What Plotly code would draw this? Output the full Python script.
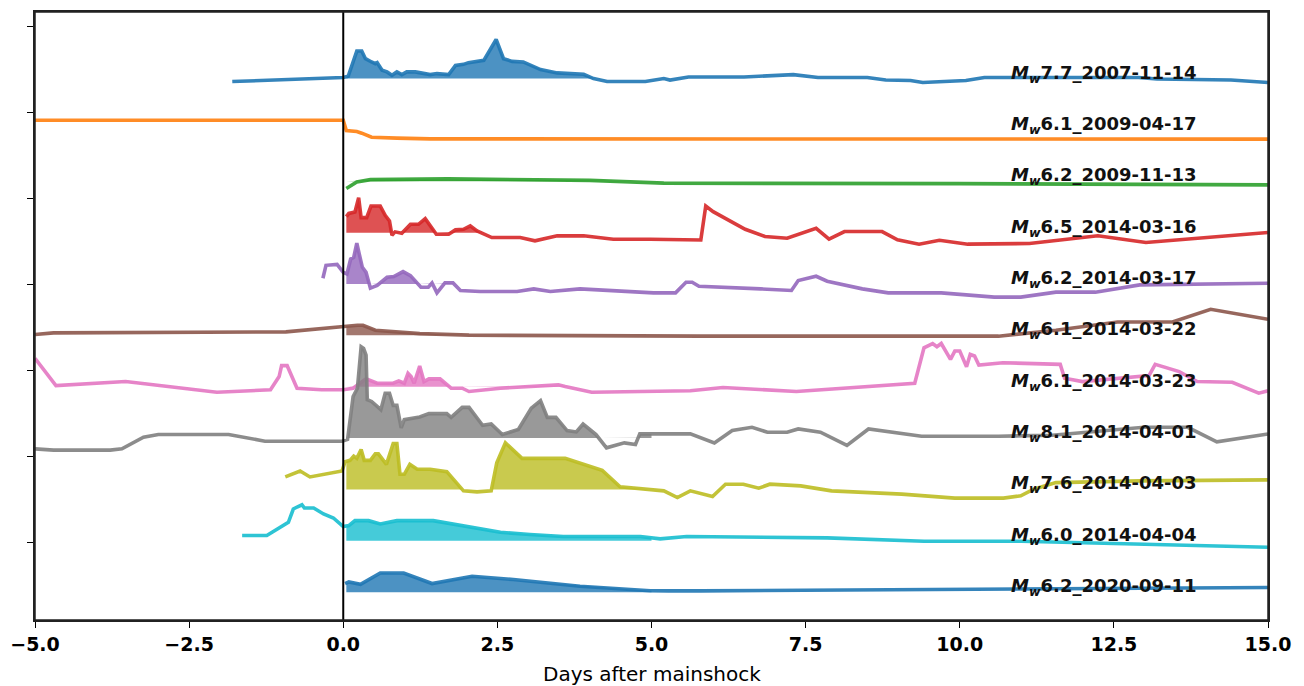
import numpy as np
import plotly.graph_objects as go

# ---------------- data (days after mainshock, relative signal per event) ----------------
labels = ["7.7_2007-11-14", "6.1_2009-04-17", "6.2_2009-11-13", "6.5_2014-03-16",
          "6.2_2014-03-17", "6.1_2014-03-22", "6.1_2014-03-23", "8.1_2014-04-01",
          "7.6_2014-04-03", "6.0_2014-04-04", "6.2_2020-09-11"]

colors = ["#1f77b4", "#ff7f0e", "#2ca02c", "#d62728", "#9467bd", "#8c564b",
          "#e377c2", "#7f7f7f", "#bcbd22", "#17becf", "#1f77b4"]

days_1 = [-1.8, 0.0, 0.08, 0.22, 0.30, 0.36, 0.46, 0.52, 0.55, 0.63, 0.71, 0.79, 0.87, 0.95, 1.03,
          1.17, 1.41, 1.52, 1.71, 1.82, 1.95, 2.03, 2.28, 2.48, 2.6, 2.74, 2.92, 3.2, 3.47, 3.9,
          4.06, 4.28, 4.9, 5.2, 5.3, 5.6, 6.5, 7.3, 7.7, 8.5, 8.8, 9.2, 9.4, 10.1, 10.4, 12.9,
          13.2, 14.4, 15.0]
vals_1 = [-3, 1, 2.3, 27.7, 27.7, 20, 16.7, 15, 16, 8.3, 6.7, 3.3, 6.7, 4, 6.7,
          6.7, 4, 5, 4, 13.3, 14.3, 16, 18.3, 39.3, 20, 17.3, 16.7, 9, 5.7, 4.3,
          0, -3, -3, 0, -1.5, 1.5, 1.5, 4, 1, 1, -1.5, -2, -4, -2, 1, 1,
          -0.5, -1.5, -4]

days_2 = [-5.0, 0.0, 0.05, 0.22, 0.3, 0.46, 0.87, 1.41, 15.0]
vals_2 = [9.7, 9.7, -0.6, -1.6, -3.3, -7.3, -8.3, -9.0, -9.3]

days_3 = [0.05, 0.22, 0.44, 1.7, 4.0, 5.2, 10.0, 15.0]
vals_3 = [-7.3, -0.6, 1.7, 2.4, 0.9, -1.9, -2.4, -3.6]

days_4 = [0.05, 0.09, 0.19, 0.25, 0.29, 0.38, 0.45, 0.6, 0.68, 0.75, 0.79, 0.84, 0.95, 1.09,
          1.22, 1.33, 1.51, 1.71, 1.82, 1.95, 2.06, 2.17, 2.41, 2.87, 3.11, 3.47, 3.9, 4.38,
          4.98, 5.47, 5.8, 5.88, 6.0, 6.52, 6.84, 7.2, 7.67, 7.88, 8.13, 8.74, 8.99, 9.34,
          9.67, 10.13, 11.13, 12.24, 13.02, 15.0]
vals_4 = [16.1, 19.4, 20.8, 35.1, 15.1, 15.1, 26.8, 26.8, 17.4, 11.8, -2.6, 0.8, -0.6, 8.4,
          8.4, 14.1, -1.6, -1.6, 2.8, 3.4, 6.8, 1.8, -4.9, -4.9, -8.2, -3.2, -3.2, -6.6,
          -6.6, -7.2, -7.4, 26.8, 21.1, 3.4, -3.9, -5.6, 4.4, -6.6, 1.1, 1.1, -7.2, -11.6,
          -7.6, -11.6, -10.9, -3.2, -9.9, 0.1]

days_5 = [-0.33, -0.28, -0.1, 0.0, 0.06, 0.12, 0.17, 0.22, 0.26, 0.31, 0.37, 0.44, 0.55, 0.71,
          0.82, 0.97, 1.09, 1.26, 1.38, 1.44, 1.52, 1.65, 1.78, 1.9, 2.22, 2.82, 3.09, 3.36,
          3.84, 4.38, 5.03, 5.39, 5.56, 5.66, 5.77, 6.77, 7.27, 7.38, 7.67, 7.85, 8.42, 8.84,
          9.7, 10.56, 10.99, 11.56, 12.2, 12.92, 15.0]
vals_5 = [5.8, 18.8, 19.8, 11.8, 10.1, 25.1, 26.8, 41.1, 30.1, 16.8, 11.8, -4.2, -1.5, 6.8,
          7.5, 12.5, 8.5, -3.2, -3.2, 1.1, -8.9, 1.1, 1.1, -6.5, -7.5, -7.5, -4.9, -7.5,
          -4.9, -6.5, -8.9, -8.9, 1.8, 1.8, -2.2, -4.9, -6.5, 3.5, 7.8, 2.8, -4.9, -8.9,
          -8.9, -13.2, -13.2, -8.2, -8.2, -0.9, 0.8]

days_6 = [-5.0, -4.7, -0.93, -0.5, 0.0, 0.23, 0.32, 0.52, 1.24, 2.04, 5.8, 10.63, 11.56,
          12.56, 13.45, 14.07, 15.0]
vals_6 = [0.8, 2.5, 3.5, 6.2, 9.2, 10.2, 10.2, 5.2, 1.8, 0.2, -0.8, -0.8, 5.2,
          13.5, 13.5, 26.2, 16.2]

days_7 = [-5.0, -4.66, -3.53, -2.05, -1.18, -1.04, -1.0, -0.91, -0.75, -0.35, 0.0, 0.16, 0.37,
          0.55, 0.81, 0.9, 0.99, 1.05, 1.1, 1.15, 1.24, 1.31, 1.39, 1.57, 1.75, 1.93, 2.04,
          2.4, 2.55, 3.49, 3.6, 4.03, 5.63, 6.16, 7.35, 9.27, 9.42, 9.56, 9.63, 9.7, 9.85,
          9.92, 10.0, 10.11, 10.17, 10.24, 10.31, 10.7, 11.63, 11.7, 11.99, 13.07, 13.17,
          13.56, 13.85, 14.42, 14.85, 15.0]
vals_7 = [28.5, 1.2, 5.2, -5.5, -3.1, 10.2, 21.2, 21.2, -1.5, -3.1, -3.1, -1.5, 7.9,
          3.5, 3.5, 5.9, 3.5, 13.5, 10.2, 3.5, 20.9, 5.2, 7.9, 7.9, -1.5, -1.5, -4.8,
          -3.1, -1.5, 1.9, 0.2, -5.5, -4.1, -0.8, -4.8, 3.5, 39.2, 43.5, 40.2, 43.5, 27.5,
          35.9, 35.9, 20.2, 32.5, 30.9, 21.9, 24.2, 22.5, 8.5, 5.2, 11.2, 22.5,
          15.2, 5.2, 4.5, -6.5, -4.1]

days_8 = [-5.0, -4.7, -3.78, -3.59, -3.24, -3.0, -1.86, -1.27, -0.02, 0.07, 0.16, 0.23, 0.29,
          0.33, 0.37, 0.39, 0.46, 0.61, 0.68, 0.75, 0.81, 0.87, 0.94, 0.99, 1.24, 1.39, 1.68,
          1.75, 1.93, 2.04, 2.26, 2.4, 2.58, 2.84, 3.05, 3.2, 3.31, 3.45, 3.63, 3.78, 3.89,
          4.1, 4.27, 4.56, 4.74, 4.81, 5.0, 5.63, 6.02, 6.31, 6.63, 6.88, 7.2, 7.38, 7.74,
          8.17, 8.52, 9.38, 10.63, 11.5, 12.99, 13.7, 14.17, 15.0]
vals_8 = [-10.8, -12.1, -12.1, -10.8, 0.9, 3.6, 3.6, -3.1, -3.1, -1.4, 41.9, 50.2, 91.9,
          90.2, 83.6, 38.6, 36.9, 28.6, 45.2, 45.2, 32.9, 32.9, 10.2, 18.6, 21.2, 24.6, 24.6,
          20.9, 30.9, 30.9, 12.9, 14.2, 3.6, 8.6, 30.2, 37.6, 20.9, 20.9, 7.6, 6.2, 14.2,
          3.6, -9.8, -4.8, -6.4, 4.2, 4.2, 4.2, -4.8, 7.6, 10.9, 5.9, 5.9, 9.2, 5.9,
          -7.4, 9.2, 1.9, 1.9, 2.9, 10.9, 10.9, -3.8, 4.2]

days_9 = [-0.94, -0.7, -0.54, -0.02, 0.03, 0.11, 0.17, 0.22, 0.29, 0.34, 0.44, 0.52, 0.57,
          0.7, 0.81, 0.87, 0.92, 0.99, 1.08, 1.2, 1.41, 1.68, 1.95, 2.17, 2.4, 2.49, 2.63,
          2.9, 3.6, 4.2, 4.49, 5.2, 5.42, 5.63, 5.99, 6.2, 6.49, 6.74, 6.92, 7.42, 7.92,
          8.56, 9.06, 9.92, 10.71, 10.99, 11.2, 11.56, 12.92, 15.0]
vals_9 = [12.6, 18.6, 12.6, 18.6, 27.9, 29.3, 33.6, 31.3, 40.3, 29.3, 29.3, 35.9, 35.9,
          25.3, 46.3, 46.3, 15.3, 15.3, 25.3, 20.3, 20.3, 17.9, -1.4, -2.4, -1.4, 26.9, 46.9,
          31.3, 31.3, 19.3, 2.6, -1.4, -8.1, -1.4, -7.1, 5.3, 5.3, 1.3, 5.3, 3.6, -1.4,
          -3.1, -4.7, -8.7, -8.7, -6.4, 0.3, 6.9, 8.6, 9.6]

days_10 = [-1.64, -1.24, -0.89, -0.81, -0.74, -0.67, -0.63, -0.48, -0.32, -0.16, 0.0, 0.09,
           0.19, 0.41, 0.6, 0.87, 1.46, 1.79, 2.11, 2.55, 3.03, 3.57, 4.82, 5.14, 5.57,
           7.85, 9.42, 11.0, 15.0]
vals_10 = [5.3, 5.3, 18.6, 32.0, 34.3, 36.3, 33.0, 33.0, 27.0, 23.0, 14.3, 15.3,
           20.3, 20.3, 17.0, 20.3, 20.3, 17.0, 13.6, 8.6, 6.3, 4.3, 4.3, 2.0, 4.3,
           3.0, -0.4, -0.4, -6.4]

days_11 = [0.03, 0.09, 0.28, 0.6, 0.98, 1.44, 2.09, 2.76, 3.84, 4.98, 5.28, 5.79, 15.0]
vals_11 = [8.7, 10.3, 8.0, 19.3, 19.3, 8.7, 16.0, 12.7, 6.0, 1.5, 1.3, 1.3, 4.7]

all_days = [days_1, days_2, days_3, days_4, days_5, days_6, days_7, days_8, days_9, days_10, days_11]
all_vals = [vals_1, vals_2, vals_3, vals_4, vals_5, vals_6, vals_7, vals_8, vals_9, vals_10, vals_11]

x_ticks = [-5.0, -2.5, 0.0, 2.5, 5.0, 7.5, 10.0, 12.5, 15.0]
x_tick_text = ["\u22125.0", "\u22122.5", "0.0", "2.5", "5.0", "7.5", "10.0", "12.5", "15.0"]

# ---------------- layout constants ----------------
STEP = 51.7          # vertical spacing between stacked events
FILL_START, FILL_END = 0.05, 5.0
LABEL_X = 10.8
FONT = "DejaVu Sans"


def rgba(hex_color, a):
    h = hex_color.lstrip("#")
    r, g, b = int(h[0:2], 16), int(h[2:4], 16), int(h[4:6], 16)
    return f"rgba({r},{g},{b},{a})"


fig = go.Figure()
n = len(labels)
for i in range(n):
    off = (n - 1 - i) * STEP
    d = np.array(all_days[i], dtype=float)
    v = np.array(all_vals[i], dtype=float)
    c = colors[i]

    # shaded area above the pre-event level within the first 5 days
    x0 = max(FILL_START, d[0])
    grid = np.linspace(x0, FILL_END, 1200)
    top = np.maximum(np.interp(grid, d, v), 0.0) + off
    px = np.concatenate([grid, grid[::-1]])
    py = np.concatenate([top, np.full_like(grid, off)])
    fig.add_trace(go.Scatter(x=px, y=py, mode="lines", fill="toself",
                             fillcolor=rgba(c, 0.8), line=dict(width=0, color=rgba(c, 0)),
                             hoverinfo="skip", showlegend=False))
    fig.add_trace(go.Scatter(x=d, y=v + off, mode="lines",
                             line=dict(color=rgba(c, 0.9), width=3.6),
                             showlegend=False, name=labels[i]))
    fig.add_annotation(x=LABEL_X, y=off + 5, xref="x", yref="y",
                       text=f"<b><i>M</i><sub><i>w</i></sub>{labels[i]}</b>",
                       showarrow=False, xanchor="left", yanchor="middle",
                       font=dict(family=FONT, size=18, color="#111111"))

fig.add_shape(type="line", x0=0, x1=0, y0=0, y1=1, xref="x", yref="paper",
              line=dict(color="black", width=2), layer="above")

# axes frame
fig.add_shape(type="rect", x0=0, x1=1, y0=0, y1=1, xref="paper", yref="paper",
              line=dict(color="#222222", width=1.5), fillcolor="rgba(0,0,0,0)", layer="above")

# x-axis title placed as paper annotation so it does not squeeze the plot area
fig.add_annotation(x=0.5, y=0, xref="paper", yref="paper", yshift=-40,
                   text="Days after mainshock", showarrow=False,
                   xanchor="center", yanchor="top",
                   font=dict(family=FONT, size=20, color="black"))

y_ticks = [50, 136.5, 223, 309.5, 396, 482.5, 569]

fig.update_layout(
    width=1288, height=678,
    margin=dict(l=27, r=28, t=2, b=66),
    paper_bgcolor="white", plot_bgcolor="white",
    font=dict(family=FONT, size=18, color="black"),
    xaxis=dict(range=[-5, 15], tickvals=x_ticks, ticktext=x_tick_text,
               tickfont=dict(family=FONT, size=19, color="black", weight="bold"),
               ticks="outside", ticklen=6, tickwidth=1.3, tickcolor="black",
               showline=True, linecolor="#222222", linewidth=1.5, mirror=True,
               showgrid=False, zeroline=False),
    yaxis=dict(range=[-28, 584], tickvals=y_ticks, showticklabels=False,
               ticks="outside", ticklen=6, tickwidth=1.3, tickcolor="black",
               showline=True, linecolor="#222222", linewidth=1.5, mirror=True,
               showgrid=False, zeroline=False),
)

fig.write_html("out.html")
